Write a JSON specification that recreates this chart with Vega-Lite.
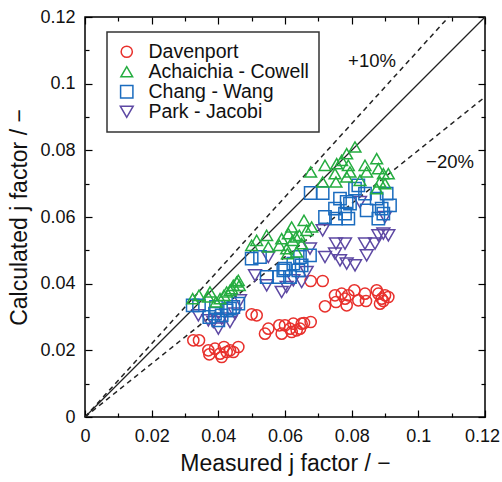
{
  "$schema": "https://vega.github.io/schema/vega-lite/v6.json",
  "width": 400,
  "height": 400,
  "autosize": "none",
  "padding": {"left": 85, "top": 17, "right": 17, "bottom": 65},
  "config": {
    "view": {"stroke": "black", "strokeWidth": 1.5},
    "font": "Liberation Sans",
    "axis": {
      "domain": false,
      "grid": false,
      "tickColor": "black",
      "tickWidth": 1.2,
      "labelColor": "#111111",
      "labelFontSize": 18,
      "titleFontSize": 23,
      "titleFontWeight": "normal",
      "titleColor": "#111111"
    },
    "legend": {"strokeWidth": 1.5}
  },
  "datasets": {
    "pts": [
      {"series": "Davenport", "x": 0.0325, "y": 0.023},
      {"series": "Davenport", "x": 0.0342, "y": 0.023},
      {"series": "Davenport", "x": 0.037, "y": 0.020},
      {"series": "Davenport", "x": 0.0373, "y": 0.0188},
      {"series": "Davenport", "x": 0.039, "y": 0.0205},
      {"series": "Davenport", "x": 0.0405, "y": 0.019},
      {"series": "Davenport", "x": 0.041, "y": 0.018},
      {"series": "Davenport", "x": 0.0417, "y": 0.021},
      {"series": "Davenport", "x": 0.0425, "y": 0.0195},
      {"series": "Davenport", "x": 0.0435, "y": 0.020},
      {"series": "Davenport", "x": 0.0445, "y": 0.0195},
      {"series": "Davenport", "x": 0.046, "y": 0.021},
      {"series": "Davenport", "x": 0.050, "y": 0.0308},
      {"series": "Davenport", "x": 0.0515, "y": 0.0305},
      {"series": "Davenport", "x": 0.054, "y": 0.025},
      {"series": "Davenport", "x": 0.055, "y": 0.0265},
      {"series": "Davenport", "x": 0.0583, "y": 0.0275},
      {"series": "Davenport", "x": 0.059, "y": 0.025},
      {"series": "Davenport", "x": 0.060, "y": 0.0275},
      {"series": "Davenport", "x": 0.0615, "y": 0.0265},
      {"series": "Davenport", "x": 0.0625, "y": 0.028},
      {"series": "Davenport", "x": 0.062, "y": 0.0255},
      {"series": "Davenport", "x": 0.0635, "y": 0.026},
      {"series": "Davenport", "x": 0.0645, "y": 0.0265},
      {"series": "Davenport", "x": 0.065, "y": 0.028},
      {"series": "Davenport", "x": 0.0657, "y": 0.0282},
      {"series": "Davenport", "x": 0.0677, "y": 0.0285},
      {"series": "Davenport", "x": 0.0677, "y": 0.0408},
      {"series": "Davenport", "x": 0.0713, "y": 0.0408},
      {"series": "Davenport", "x": 0.072, "y": 0.0332},
      {"series": "Davenport", "x": 0.075, "y": 0.0365},
      {"series": "Davenport", "x": 0.0753, "y": 0.0345},
      {"series": "Davenport", "x": 0.077, "y": 0.037},
      {"series": "Davenport", "x": 0.078, "y": 0.0355},
      {"series": "Davenport", "x": 0.0785, "y": 0.0335},
      {"series": "Davenport", "x": 0.079, "y": 0.0365},
      {"series": "Davenport", "x": 0.0808, "y": 0.038},
      {"series": "Davenport", "x": 0.082, "y": 0.035},
      {"series": "Davenport", "x": 0.084, "y": 0.037},
      {"series": "Davenport", "x": 0.0843, "y": 0.0348},
      {"series": "Davenport", "x": 0.0875, "y": 0.038},
      {"series": "Davenport", "x": 0.088, "y": 0.037},
      {"series": "Davenport", "x": 0.0885, "y": 0.034},
      {"series": "Davenport", "x": 0.089, "y": 0.0355},
      {"series": "Davenport", "x": 0.090, "y": 0.0365},
      {"series": "Davenport", "x": 0.091, "y": 0.036},
      {"series": "Davenport", "x": 0.0895, "y": 0.0348},

      {"series": "Park - Jacobi", "x": 0.034, "y": 0.0305},
      {"series": "Park - Jacobi", "x": 0.037, "y": 0.029},
      {"series": "Park - Jacobi", "x": 0.0385, "y": 0.0285},
      {"series": "Park - Jacobi", "x": 0.040, "y": 0.0265},
      {"series": "Park - Jacobi", "x": 0.041, "y": 0.0295},
      {"series": "Park - Jacobi", "x": 0.0435, "y": 0.0285},
      {"series": "Park - Jacobi", "x": 0.045, "y": 0.031},
      {"series": "Park - Jacobi", "x": 0.0465, "y": 0.035},
      {"series": "Park - Jacobi", "x": 0.051, "y": 0.0425},
      {"series": "Park - Jacobi", "x": 0.0545, "y": 0.0395},
      {"series": "Park - Jacobi", "x": 0.059, "y": 0.0375},
      {"series": "Park - Jacobi", "x": 0.0605, "y": 0.039},
      {"series": "Park - Jacobi", "x": 0.0625, "y": 0.041},
      {"series": "Park - Jacobi", "x": 0.065, "y": 0.0405},
      {"series": "Park - Jacobi", "x": 0.0665, "y": 0.0435},
      {"series": "Park - Jacobi", "x": 0.055, "y": 0.048},
      {"series": "Park - Jacobi", "x": 0.0675, "y": 0.0505},
      {"series": "Park - Jacobi", "x": 0.0713, "y": 0.056},
      {"series": "Park - Jacobi", "x": 0.072, "y": 0.048},
      {"series": "Park - Jacobi", "x": 0.075, "y": 0.049},
      {"series": "Park - Jacobi", "x": 0.0753, "y": 0.052},
      {"series": "Park - Jacobi", "x": 0.0765, "y": 0.047},
      {"series": "Park - Jacobi", "x": 0.078, "y": 0.052},
      {"series": "Park - Jacobi", "x": 0.0785, "y": 0.046},
      {"series": "Park - Jacobi", "x": 0.081, "y": 0.0455},
      {"series": "Park - Jacobi", "x": 0.084, "y": 0.052},
      {"series": "Park - Jacobi", "x": 0.0845, "y": 0.0485},
      {"series": "Park - Jacobi", "x": 0.087, "y": 0.052},
      {"series": "Park - Jacobi", "x": 0.088, "y": 0.0545},
      {"series": "Park - Jacobi", "x": 0.0895, "y": 0.055},
      {"series": "Park - Jacobi", "x": 0.091, "y": 0.0545},
      {"series": "Park - Jacobi", "x": 0.0825, "y": 0.0645},
      {"series": "Park - Jacobi", "x": 0.090, "y": 0.060},

      {"series": "Chang - Wang", "x": 0.0323, "y": 0.0335},
      {"series": "Chang - Wang", "x": 0.0342, "y": 0.0335},
      {"series": "Chang - Wang", "x": 0.0373, "y": 0.030},
      {"series": "Chang - Wang", "x": 0.039, "y": 0.031},
      {"series": "Chang - Wang", "x": 0.040, "y": 0.029},
      {"series": "Chang - Wang", "x": 0.041, "y": 0.0305},
      {"series": "Chang - Wang", "x": 0.0425, "y": 0.032},
      {"series": "Chang - Wang", "x": 0.0435, "y": 0.0325},
      {"series": "Chang - Wang", "x": 0.0445, "y": 0.033},
      {"series": "Chang - Wang", "x": 0.046, "y": 0.034},
      {"series": "Chang - Wang", "x": 0.0393, "y": 0.033},
      {"series": "Chang - Wang", "x": 0.050, "y": 0.0475},
      {"series": "Chang - Wang", "x": 0.0525, "y": 0.048},
      {"series": "Chang - Wang", "x": 0.0545, "y": 0.042},
      {"series": "Chang - Wang", "x": 0.0583, "y": 0.042},
      {"series": "Chang - Wang", "x": 0.0595, "y": 0.044},
      {"series": "Chang - Wang", "x": 0.060, "y": 0.0445},
      {"series": "Chang - Wang", "x": 0.0615, "y": 0.042},
      {"series": "Chang - Wang", "x": 0.0625, "y": 0.046},
      {"series": "Chang - Wang", "x": 0.064, "y": 0.044},
      {"series": "Chang - Wang", "x": 0.0645, "y": 0.048},
      {"series": "Chang - Wang", "x": 0.0675, "y": 0.0485},
      {"series": "Chang - Wang", "x": 0.065, "y": 0.0455},
      {"series": "Chang - Wang", "x": 0.0677, "y": 0.0672},
      {"series": "Chang - Wang", "x": 0.0713, "y": 0.0672},
      {"series": "Chang - Wang", "x": 0.072, "y": 0.060},
      {"series": "Chang - Wang", "x": 0.075, "y": 0.0625},
      {"series": "Chang - Wang", "x": 0.0753, "y": 0.0595},
      {"series": "Chang - Wang", "x": 0.0765, "y": 0.0655},
      {"series": "Chang - Wang", "x": 0.078, "y": 0.061},
      {"series": "Chang - Wang", "x": 0.0785, "y": 0.0645},
      {"series": "Chang - Wang", "x": 0.079, "y": 0.0595},
      {"series": "Chang - Wang", "x": 0.0795, "y": 0.064},
      {"series": "Chang - Wang", "x": 0.081, "y": 0.0685},
      {"series": "Chang - Wang", "x": 0.082, "y": 0.0695},
      {"series": "Chang - Wang", "x": 0.084, "y": 0.067},
      {"series": "Chang - Wang", "x": 0.0845, "y": 0.062},
      {"series": "Chang - Wang", "x": 0.0875, "y": 0.0655},
      {"series": "Chang - Wang", "x": 0.088, "y": 0.0595},
      {"series": "Chang - Wang", "x": 0.089, "y": 0.0625},
      {"series": "Chang - Wang", "x": 0.0905, "y": 0.067},
      {"series": "Chang - Wang", "x": 0.0915, "y": 0.0635},
      {"series": "Chang - Wang", "x": 0.0895, "y": 0.061},

      {"series": "Achaichia - Cowell", "x": 0.0323, "y": 0.0355},
      {"series": "Achaichia - Cowell", "x": 0.0342, "y": 0.0365},
      {"series": "Achaichia - Cowell", "x": 0.037, "y": 0.036},
      {"series": "Achaichia - Cowell", "x": 0.0375, "y": 0.0375},
      {"series": "Achaichia - Cowell", "x": 0.0393, "y": 0.0345},
      {"series": "Achaichia - Cowell", "x": 0.0405, "y": 0.0355},
      {"series": "Achaichia - Cowell", "x": 0.0417, "y": 0.0365},
      {"series": "Achaichia - Cowell", "x": 0.0425, "y": 0.0375},
      {"series": "Achaichia - Cowell", "x": 0.0435, "y": 0.038},
      {"series": "Achaichia - Cowell", "x": 0.0445, "y": 0.0395},
      {"series": "Achaichia - Cowell", "x": 0.0455, "y": 0.0405},
      {"series": "Achaichia - Cowell", "x": 0.046, "y": 0.041},
      {"series": "Achaichia - Cowell", "x": 0.0463, "y": 0.0395},
      {"series": "Achaichia - Cowell", "x": 0.044, "y": 0.0385},
      {"series": "Achaichia - Cowell", "x": 0.050, "y": 0.0515},
      {"series": "Achaichia - Cowell", "x": 0.0515, "y": 0.053},
      {"series": "Achaichia - Cowell", "x": 0.0545, "y": 0.0545},
      {"series": "Achaichia - Cowell", "x": 0.055, "y": 0.051},
      {"series": "Achaichia - Cowell", "x": 0.0583, "y": 0.0515},
      {"series": "Achaichia - Cowell", "x": 0.059, "y": 0.0535},
      {"series": "Achaichia - Cowell", "x": 0.0605, "y": 0.0505},
      {"series": "Achaichia - Cowell", "x": 0.061, "y": 0.055},
      {"series": "Achaichia - Cowell", "x": 0.062, "y": 0.057},
      {"series": "Achaichia - Cowell", "x": 0.0623, "y": 0.053},
      {"series": "Achaichia - Cowell", "x": 0.0633, "y": 0.054},
      {"series": "Achaichia - Cowell", "x": 0.0635, "y": 0.0495},
      {"series": "Achaichia - Cowell", "x": 0.0643, "y": 0.0545},
      {"series": "Achaichia - Cowell", "x": 0.065, "y": 0.052},
      {"series": "Achaichia - Cowell", "x": 0.0657, "y": 0.059},
      {"series": "Achaichia - Cowell", "x": 0.0665, "y": 0.056},
      {"series": "Achaichia - Cowell", "x": 0.068, "y": 0.057},
      {"series": "Achaichia - Cowell", "x": 0.0607, "y": 0.049},
      {"series": "Achaichia - Cowell", "x": 0.0677, "y": 0.0735},
      {"series": "Achaichia - Cowell", "x": 0.0713, "y": 0.0705},
      {"series": "Achaichia - Cowell", "x": 0.072, "y": 0.0755},
      {"series": "Achaichia - Cowell", "x": 0.075, "y": 0.073},
      {"series": "Achaichia - Cowell", "x": 0.0753, "y": 0.0705},
      {"series": "Achaichia - Cowell", "x": 0.0755, "y": 0.076},
      {"series": "Achaichia - Cowell", "x": 0.077, "y": 0.077},
      {"series": "Achaichia - Cowell", "x": 0.0785, "y": 0.079},
      {"series": "Achaichia - Cowell", "x": 0.079, "y": 0.0755},
      {"series": "Achaichia - Cowell", "x": 0.0785, "y": 0.072},
      {"series": "Achaichia - Cowell", "x": 0.0795, "y": 0.0735},
      {"series": "Achaichia - Cowell", "x": 0.081, "y": 0.081},
      {"series": "Achaichia - Cowell", "x": 0.0825, "y": 0.071},
      {"series": "Achaichia - Cowell", "x": 0.084, "y": 0.0755},
      {"series": "Achaichia - Cowell", "x": 0.0845, "y": 0.0735},
      {"series": "Achaichia - Cowell", "x": 0.0875, "y": 0.0775},
      {"series": "Achaichia - Cowell", "x": 0.088, "y": 0.0745},
      {"series": "Achaichia - Cowell", "x": 0.0885, "y": 0.0705},
      {"series": "Achaichia - Cowell", "x": 0.0895, "y": 0.073},
      {"series": "Achaichia - Cowell", "x": 0.091, "y": 0.073},
      {"series": "Achaichia - Cowell", "x": 0.0875, "y": 0.0685},
      {"series": "Achaichia - Cowell", "x": 0.090, "y": 0.070}
    ],
    "solid": [
      {"x": 0, "y": 0},
      {"x": 0.12, "y": 0.12}
    ],
    "dashed": [
      {"line": "+10%", "x": 0, "y": 0},
      {"line": "+10%", "x": 0.10909, "y": 0.12},
      {"line": "-20%", "x": 0, "y": 0},
      {"line": "-20%", "x": 0.12, "y": 0.096}
    ],
    "labels": [
      {"x": 0.0861, "y": 0.1068, "text": "+10%"},
      {"x": 0.1095, "y": 0.0765, "text": "−20%"}
    ]
  },
  "layer": [
    {
      "data": {"name": "dashed"},
      "mark": {"type": "line", "color": "#222222", "strokeWidth": 1.5, "strokeDash": [5, 4]},
      "encoding": {
        "x": {"field": "x", "type": "quantitative", "scale": {"domain": [0, 0.12], "nice": false},
          "axis": {"orient": "bottom", "values": [0, 0.02, 0.04, 0.06, 0.08, 0.1, 0.12], "labelExpr": "format(datum.value, '.2~f')", "tickSize": -7, "labelPadding": 17, "labelOffset": {"condition": {"test": "datum.value > 0.11", "value": -3}, "value": 0}, "title": "Measured j factor / −", "titlePadding": 7, "labelFlush": false}},
        "y": {"field": "y", "type": "quantitative", "scale": {"domain": [0, 0.12], "nice": false},
          "axis": {"orient": "left", "values": [0, 0.02, 0.04, 0.06, 0.08, 0.1, 0.12], "labelExpr": "format(datum.value, '.2~f')", "tickSize": -7, "labelPadding": 17, "title": "Calculated j factor / −", "titlePadding": 8, "labelFlush": false}},
        "detail": {"field": "line"}
      }
    },
    {
      "data": {"name": "solid"},
      "mark": {"type": "line", "color": "#222222", "strokeWidth": 1.2},
      "encoding": {
        "x": {"field": "x", "type": "quantitative", "scale": {"domain": [0, 0.12], "nice": false},
          "axis": {"orient": "top", "values": [0, 0.02, 0.04, 0.06, 0.08, 0.1, 0.12], "tickSize": -7, "labels": false, "title": null}},
        "y": {"field": "y", "type": "quantitative", "scale": {"domain": [0, 0.12], "nice": false},
          "axis": {"orient": "right", "values": [0, 0.02, 0.04, 0.06, 0.08, 0.1, 0.12], "tickSize": -7, "labels": false, "title": null}}
      }
    },
    {
      "data": {"name": "labels"},
      "mark": {"type": "text", "fontSize": 18.5, "color": "#111111", "align": "center", "baseline": "middle"},
      "encoding": {
        "x": {"field": "x", "type": "quantitative", "scale": {"domain": [0, 0.12], "nice": false},
          "axis": {"orient": "bottom", "values": [0.01, 0.03, 0.05, 0.07, 0.09, 0.11], "tickSize": -4, "labels": false, "title": null}},
        "y": {"field": "y", "type": "quantitative", "scale": {"domain": [0, 0.12], "nice": false},
          "axis": {"orient": "left", "values": [0.01, 0.03, 0.05, 0.07, 0.09, 0.11], "tickSize": -4, "labels": false, "title": null}},
        "text": {"field": "text"}
      }
    },
    {
      "data": {"name": "pts"},
      "mark": {"type": "point", "filled": false, "strokeWidth": 1.5, "opacity": 1},
      "encoding": {
        "x": {"field": "x", "type": "quantitative", "scale": {"domain": [0, 0.12], "nice": false},
          "axis": {"orient": "top", "values": [0.01, 0.03, 0.05, 0.07, 0.09, 0.11], "tickSize": -4, "labels": false, "title": null}},
        "y": {"field": "y", "type": "quantitative", "scale": {"domain": [0, 0.12], "nice": false},
          "axis": {"orient": "right", "values": [0.01, 0.03, 0.05, 0.07, 0.09, 0.11], "tickSize": -4, "labels": false, "title": null}},
        "color": {"field": "series", "type": "nominal",
          "scale": {"domain": ["Davenport", "Achaichia - Cowell", "Chang - Wang", "Park - Jacobi"], "range": ["#e8302c", "#25ad40", "#1b6cbf", "#5d48a3"]},
          "legend": {"orient": "none", "legendX": 22, "legendY": 15, "title": null, "strokeColor": "#333333", "fillColor": "white", "padding": 10, "labelFontSize": 19.5, "labelLimit": 400, "labelColor": "#111111", "symbolSize": 80, "symbolStrokeWidth": 1.5, "rowPadding": -1, "labelOffset": 12}},
        "shape": {"field": "series", "type": "nominal",
          "scale": {"domain": ["Davenport", "Achaichia - Cowell", "Chang - Wang", "Park - Jacobi"], "range": ["circle", "triangle-up", "square", "triangle-down"]}},
        "size": {"field": "series", "type": "nominal", "legend": null,
          "scale": {"domain": ["Davenport", "Achaichia - Cowell", "Chang - Wang", "Park - Jacobi"], "range": [125, 165, 105, 165]}}
      }
    }
  ],
  "resolve": {"axis": {"x": "independent", "y": "independent"}}
}
